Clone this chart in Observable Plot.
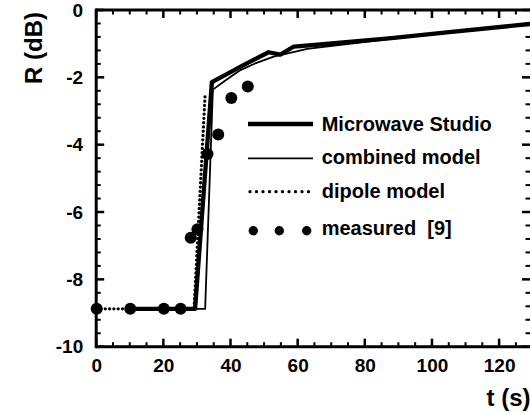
<!DOCTYPE html>
<html><head><meta charset="utf-8">
<script src="https://cdn.jsdelivr.net/npm/d3@7"></script>
<script src="https://cdn.jsdelivr.net/npm/@observablehq/plot@0.6"></script>
<style>
html,body{margin:0;padding:0;background:#fff;}
</style></head><body><div id="wrap"></div>
<script>
// ---- data ----
const tMWS = [10, 29.3, 34.3, 39.3, 43, 47, 51.2, 54.7, 58.7, 70, 87, 105, 129.2];
const rMWS = [-8.86, -8.86, -2.13, -1.86, -1.66, -1.45, -1.24, -1.31, -1.07, -0.98, -0.83, -0.64, -0.40];

const tComb = [10, 32.3, 34.6, 38, 42.8, 47, 52.7, 62.7, 87, 105, 129.2];
const rComb = [-8.86, -8.86, -2.35, -2.1, -1.77, -1.58, -1.37, -1.14, -0.85, -0.65, -0.41];

const tDip = [0, 29, 32.3];
const rDip = [-8.86, -8.86, -2.48];

const tMeas = [0, 10, 20, 25, 28, 30, 33, 36.2, 40.1, 45];
const rMeas = [-8.86, -8.86, -8.86, -8.86, -6.75, -6.5, -4.26, -3.68, -2.6, -2.26];

const xMajor = [0, 20, 40, 60, 80, 100, 120];
const yMajor = [0, -2, -4, -6, -8, -10];
const xMinor = [5, 10, 15, 25, 30, 35, 45, 50, 55, 65, 70, 75, 85, 90, 95, 105, 110, 115, 125];
const yMinor = [-0.4, -0.8, -1.2, -1.6, -2.4, -2.8, -3.2, -3.6, -4.4, -4.8, -5.2, -5.6,
                -6.4, -6.8, -7.2, -7.6, -8.4, -8.8, -9.2, -9.6];

const legendLabels = ["Microwave Studio", "combined model", "dipole model", "measured  [9]"];

const FONT = "'Liberation Sans', Arial, Helvetica, sans-serif";
const W = 530, H = 414, mL = 96.2, mR = 0, mT = 10, mB = 67.3;
const X_MIN = 0, X_MAX = 129.2, Y_MIN = -10, Y_MAX = 0;

const pts = (ts, rs) => ts.map((t, i) => ({t, r: rs[i]}));

const chart = Plot.plot({
  width: W, height: H,
  marginLeft: mL, marginRight: mR, marginTop: mT, marginBottom: mB,
  style: {fontFamily: FONT, color: "black", background: "white"},
  x: {domain: [X_MIN, X_MAX]},
  y: {domain: [Y_MIN, Y_MAX]},
  marks: [
    Plot.axisX({ticks: xMajor, tickSize: 0, tickPadding: 11, tickFormat: d => String(d),
      fontSize: 19, fontWeight: "bold", label: null}),
    Plot.axisY({ticks: yMajor, tickSize: 0, tickPadding: 13.5, tickFormat: d => String(d),
      fontSize: 19, fontWeight: "bold", label: null}),
    Plot.text(["R (dB)"], {frameAnchor: "top-left", dx: -71.6, dy: 37.5, rotate: -90,
      fontSize: 24, fontWeight: "bold", textAnchor: "middle"}),
    Plot.text(["t (s)"], {frameAnchor: "bottom-right", dy: 58.6, textAnchor: "end",
      fontSize: 24, fontWeight: "bold"}),
    Plot.line(pts(tDip, rDip), {x: "t", y: "r", stroke: "black", strokeWidth: 3.3,
      strokeDasharray: "0 4.3", strokeLinecap: "round"}),
    Plot.line(pts(tComb, rComb), {x: "t", y: "r", stroke: "black", strokeWidth: 1.8}),
    Plot.line(pts(tMWS, rMWS), {x: "t", y: "r", stroke: "black", strokeWidth: 4.3}),
    Plot.dot(pts(tMeas, rMeas), {x: "t", y: "r", r: 6, fill: "black", stroke: "none"})
  ]
});

document.getElementById("wrap").appendChild(chart);

// frame and inward ticks, positioned through the chart's scales
// (with a linear fallback identical to the plot's own domain/range)
const fx = d3.scaleLinear([X_MIN, X_MAX], [mL, W - mR]);
const fy = d3.scaleLinear([Y_MIN, Y_MAX], [H - mB, mT]);
let sx = null, sy = null;
try { sx = chart.scale("x"); sy = chart.scale("y"); } catch (e) {}
const X = v => { const p = sx && sx.apply ? +sx.apply(v) : NaN; return isFinite(p) ? p : fx(v); };
const Y = v => { const p = sy && sy.apply ? +sy.apply(v) : NaN; return isFinite(p) ? p : fy(v); };

const svg = d3.select(chart);
const fr = svg.append("g").attr("class", "frame");
const seg = (x1, y1, x2, y2, w, cap) => fr.append("line")
  .attr("x1", x1).attr("y1", y1).attr("x2", x2).attr("y2", y2)
  .attr("stroke", "black").attr("fill", "none")
  .attr("stroke-width", w).attr("stroke-linecap", cap || "butt");
const xL = X(X_MIN), xR = X(X_MAX), yT = Y(Y_MAX), yB = Y(Y_MIN);
seg(xL, yT - 1.5, xL, yB + 1.5, 3);
seg(xL, yT, xR, yT, 3);
seg(xL, yB, xR, yB, 3);
xMajor.forEach(v => { seg(X(v), yB, X(v), yB - 8, 2.5); seg(X(v), yT, X(v), yT + 8, 2.5); });
xMinor.forEach(v => { seg(X(v), yB, X(v), yB - 4.5, 2); seg(X(v), yT, X(v), yT + 4.5, 2); });
yMajor.forEach(v => { seg(xL, Y(v), xL + 8, Y(v), 2.5); seg(xR, Y(v), xR - 8, Y(v), 2.5); });
yMinor.forEach(v => { seg(xL, Y(v), xL + 4.5, Y(v), 2); seg(xR, Y(v), xR - 4.5, Y(v), 2); });

// legend drawn into the chart's SVG
const lg = svg.append("g").attr("class", "legend")
  .attr("font-family", FONT).attr("text-anchor", "start");
const x0 = 248, x1 = 313, tx = 321.7;
const rowsY = [124, 158.3, 191.7, 230.7];
const baseY = [130.7, 164.3, 198, 235];
lg.append("line").attr("x1", x0).attr("x2", x1).attr("y1", rowsY[0]).attr("y2", rowsY[0])
  .attr("stroke", "black").attr("stroke-width", 4.3);
lg.append("line").attr("x1", x0).attr("x2", x1).attr("y1", rowsY[1]).attr("y2", rowsY[1])
  .attr("stroke", "black").attr("stroke-width", 1.8);
lg.append("line").attr("x1", x0 + 2).attr("x2", x1).attr("y1", rowsY[2]).attr("y2", rowsY[2])
  .attr("stroke", "black").attr("stroke-width", 3.3).attr("stroke-dasharray", "0 6.5")
  .attr("stroke-linecap", "round");
[253.3, 279.3, 306.7].forEach(cx => lg.append("circle").attr("cx", cx).attr("cy", rowsY[3])
  .attr("r", 4.7).attr("fill", "black"));
legendLabels.forEach((s, i) => lg.append("text").attr("x", tx).attr("y", baseY[i])
  .attr("font-size", 20).attr("font-weight", "bold").attr("fill", "black")
  .attr("text-anchor", "start").style("white-space", "pre").text(s));
</script></body></html>
